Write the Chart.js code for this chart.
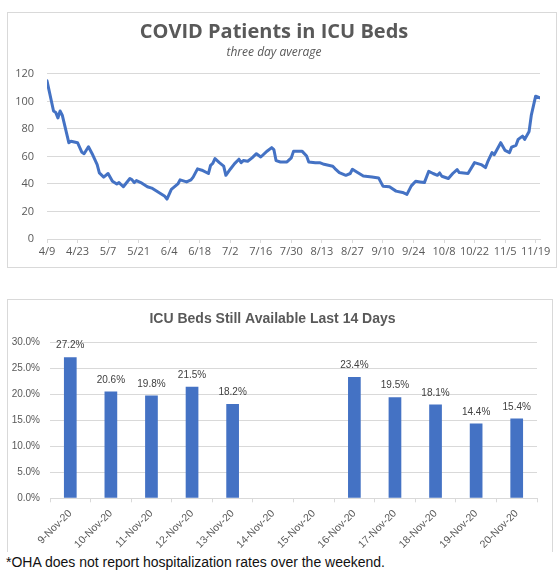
<!DOCTYPE html>
<html><head><meta charset="utf-8">
<script src="https://cdn.jsdelivr.net/npm/chart.js@4.4.1/dist/chart.umd.min.js"></script>
<style>
html,body{margin:0;padding:0;background:#fff;width:559px;height:585px;overflow:hidden;}
.box{position:absolute;border:1px solid #d9d9d9;box-sizing:border-box;}
#box1{left:7px;top:12px;width:550px;height:256px;}
#box2{left:7px;top:299px;width:546px;height:253px;border-bottom:none;}
canvas{display:block;}
#note{position:absolute;left:6px;top:554px;font:14px "Liberation Sans",Arial,sans-serif;color:#111;white-space:nowrap;line-height:16px;}
</style></head>
<body>
<div class="box" id="box1"><canvas id="c1" width="548" height="254"></canvas></div>
<div class="box" id="box2"><canvas id="c2" width="544" height="252"></canvas></div>
<div id="note">*OHA does not report hospitalization rates over the weekend.</div>
<script>
// ---- Top chart data: days since 4/9 and patients (three day average) ----
const tickLabels = ['4/9','4/23','5/7','5/21','6/4','6/18','7/2','7/16','7/30','8/13','8/27','9/10','9/24','10/8','10/22','11/5','11/19'];
const days = [0,3,4,5,6,7,10,11,14,16,17,19,21,23,24,26,28,30,32,33,35,38,39,40,41,43,46,48,50,52,54,55,57,60,61,64,66,67,69,71,74,75,76,77,79,81,82,84,86,88,89,90,92,94,96,98,101,103,104,105,107,110,112,113,117,119,120,123,125,127,131,132,134,137,139,140,142,145,149,152,154,157,160,163,165,167,169,171,173,175,177,179,180,181,184,186,188,189,193,196,199,201,202,204,205,208,210,212,213,215,216,218,219,221,222,224,226];
const patients = [115,93,92,88,93,90,70,71,70,63,62,67,61,54,48,45,47.6,42,40,41,38,44,43,41,42.5,41,38,37,35,33,31,29,36,40,43,41.5,43,45,51,50,47.6,53.6,55,58.5,55.5,53,46.3,50.7,54.8,58,55.5,57,56.5,59,62,59.6,64,66.4,65,57,56,56,59,63.7,63.7,60.3,56,55.5,55.5,54.3,52.9,51.2,48.3,46.3,47.6,50.7,48.7,45.8,45.1,44.4,38.4,37.9,34.8,33.8,32.4,38.6,42,41.5,41,49.2,47.6,46.3,48,45.6,44,47.6,50.5,48.3,47.6,55.5,54.1,51.9,56,62.8,61.3,70,64.4,62.8,66.8,68.1,72.4,74.8,72.4,78.2,89.8,103.8,102.6];

// ---- Bottom chart data ----
const dates = ['9-Nov-20','10-Nov-20','11-Nov-20','12-Nov-20','13-Nov-20','14-Nov-20','15-Nov-20','16-Nov-20','17-Nov-20','18-Nov-20','19-Nov-20','20-Nov-20'];
const available = [27.2,20.6,19.8,21.5,18.2,null,null,23.4,19.5,18.1,14.4,15.4];

const GRID = '#d9d9d9';
const TXT = '#595959';
const BLUE = '#4472C4';

new Chart(document.getElementById('c1'), {
  type: 'line',
  data: {
    datasets: [{
      data: days.map((d, i) => ({x: d, y: patients[i]})),
      borderColor: BLUE,
      borderWidth: 3,
      pointRadius: 0,
      tension: 0,
      borderJoinStyle: 'round',
      borderCapStyle: 'round',
      fill: false
    }]
  },
  options: {
    responsive: false, animation: false, devicePixelRatio: 1,
    layout: {padding: {left: 0, right: 16, top: 0, bottom: 0}},
    plugins: {
      legend: {display: false}, tooltip: {enabled: false},
      title: {display: true, text: 'COVID Patients in ICU Beds', color: TXT,
        font: {family: '"Open Sans", sans-serif', size: 20, weight: 'bold'},
        padding: {top: 7.3, bottom: 0}},
      subtitle: {display: true, text: 'three day average', color: TXT,
        font: {family: '"Open Sans", sans-serif', size: 12, style: 'italic'},
        padding: {top: 1.4, bottom: 13.8}}
    },
    scales: {
      x: {
        type: 'linear', min: 0, max: 226,
        afterFit: s => { s.height = 28; },
        afterBuildTicks: s => { s.ticks = tickLabels.map((t, i) => ({value: i * 14})); },
        ticks: {autoSkip: false, maxRotation: 0, padding: 2.5, color: TXT,
          font: {family: '"Open Sans", sans-serif', size: 11},
          callback: v => tickLabels[Math.round(v / 14)]},
        grid: {drawOnChartArea: false, drawTicks: true, tickLength: 4, color: GRID},
        border: {color: GRID}
      },
      y: {
        min: 0, max: 120,
        afterFit: s => { s.width = 39; },
        ticks: {stepSize: 20, padding: 13, color: TXT,
          font: {family: '"Open Sans", sans-serif', size: 11}},
        grid: {color: GRID, drawTicks: false},
        border: {display: false}
      }
    }
  }
});

const barLabels = {
  id: 'barLabels',
  afterDatasetsDraw(chart) {
    const ctx = chart.ctx;
    const meta = chart.getDatasetMeta(0);
    ctx.save();
    ctx.font = '10px "Liberation Sans", Arial, sans-serif';
    ctx.fillStyle = '#404040';
    ctx.textAlign = 'center';
    ctx.textBaseline = 'middle';
    meta.data.forEach((bar, i) => {
      const v = available[i];
      if (v == null) return;
      ctx.fillText(v.toFixed(1) + '%', bar.x, bar.y - 11.5);
    });
    ctx.restore();
  }
};

new Chart(document.getElementById('c2'), {
  type: 'bar',
  data: {
    labels: dates,
    datasets: [{data: available, backgroundColor: BLUE, barPercentage: 0.313, categoryPercentage: 1}]
  },
  plugins: [barLabels],
  options: {
    responsive: false, animation: false, devicePixelRatio: 1,
    layout: {padding: {left: 0, right: 15, top: 0, bottom: 0}},
    plugins: {
      legend: {display: false}, tooltip: {enabled: false},
      title: {display: true, text: 'ICU Beds Still Available Last 14 Days', color: TXT,
        font: {family: '"Liberation Sans", Arial, sans-serif', size: 14, weight: 'bold'},
        padding: {top: 10.6, bottom: 15.3}}
    },
    scales: {
      x: {
        afterFit: s => { s.height = 53.7; },
        ticks: {autoSkip: false, minRotation: 45, maxRotation: 45, padding: 5, color: TXT,
          font: {family: '"Liberation Sans", Arial, sans-serif', size: 10.5}},
        grid: {drawOnChartArea: false, drawTicks: true, tickLength: 4, color: GRID, offset: true},
        border: {color: GRID}
      },
      y: {
        min: 0, max: 30,
        afterFit: s => { s.width = 42; },
        ticks: {stepSize: 5, padding: 10, color: TXT,
          font: {family: '"Liberation Sans", Arial, sans-serif', size: 10},
          callback: v => v.toFixed(1) + '%'},
        grid: {color: GRID, drawTicks: false},
        border: {display: false}
      }
    }
  }
});
</script>
</body></html>
